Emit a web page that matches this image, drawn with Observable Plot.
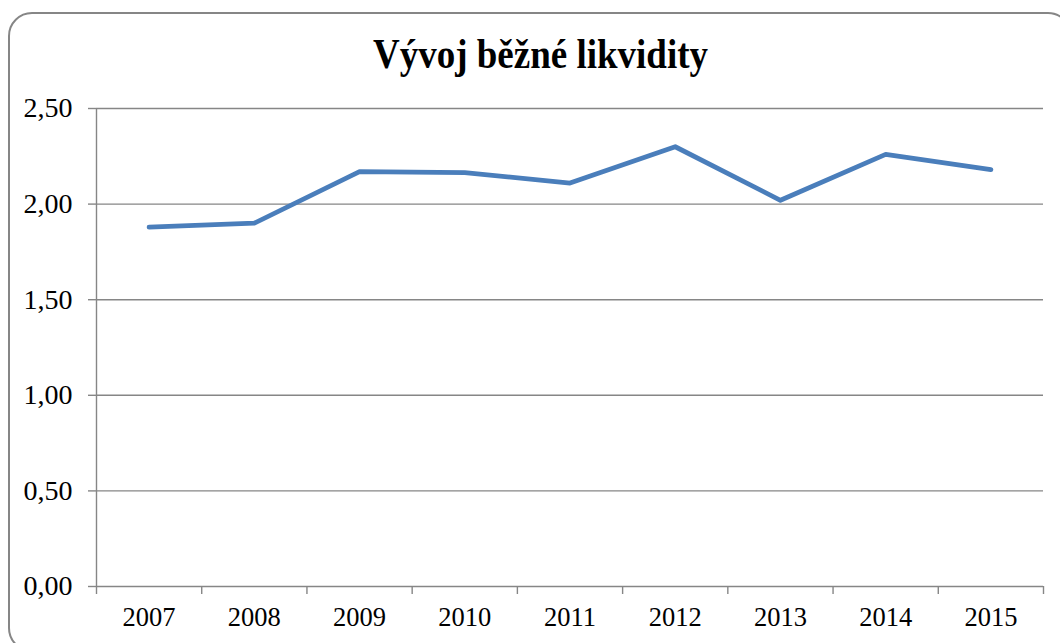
<!DOCTYPE html>
<html>
<head>
<meta charset="utf-8">
<script src="https://cdn.jsdelivr.net/npm/d3@7"></script>
<script src="https://cdn.jsdelivr.net/npm/@observablehq/plot@0.6"></script>
<style>
  html, body { margin: 0; padding: 0; background: #fff; overflow: hidden; }
  #wrap { position: relative; width: 1060px; height: 643px; }
  #frame { position: absolute; left: 8px; top: 12px; width: 1064px; height: 640px;
           border: 2px solid #868686; border-radius: 24px; box-sizing: border-box; }
  #title { position: absolute; left: 0; width: 1081px; top: 37px; text-align: center;
           font-family: "Liberation Serif", "Times New Roman", serif; font-weight: bold;
           font-size: 37px; color: #000; line-height: 1; white-space: nowrap;
           transform: scaleY(1.12); transform-origin: 50% 89%; }
  #chart { position: absolute; left: 0; top: 0; }
</style>
</head>
<body>
<div id="wrap">
  <div id="frame"></div>
  <div id="title">Vývoj běžné likvidity</div>
  <div id="chart"></div>
</div>
<script>
const years = ["2007","2008","2009","2010","2011","2012","2013","2014","2015"];
const values = [1.88, 1.90, 2.17, 2.165, 2.11, 2.30, 2.02, 2.26, 2.18];
const yTicks = [0, 0.5, 1.0, 1.5, 2.0, 2.5];

const data = years.map((y, i) => ({year: y, idx: i + 0.5, value: values[i]}));
const fmt = d => d.toFixed(2).replace(".", ",");
const gray = "#868686";

const plot = Plot.plot({
  width: 1060,
  height: 643,
  marginLeft: 96,
  marginRight: 17,
  marginTop: 108,
  marginBottom: 57,
  style: {fontFamily: "'Liberation Serif', 'Times New Roman', serif", fontSize: "26px", color: "#000", background: "transparent"},
  x: {type: "linear", domain: [0, years.length], axis: null},
  y: {domain: [0, 2.5], axis: null},
  marks: [
    Plot.gridY(yTicks, {stroke: gray, strokeOpacity: 1, strokeWidth: 1.4}),
    Plot.ruleX([0], {stroke: gray, strokeWidth: 1.4}),
    Plot.axisY({ticks: yTicks, tickSize: 8, tickPadding: 16, tickFormat: fmt, stroke: gray, strokeWidth: 1.4, fill: "#000", fontSize: 28, label: null}),
    Plot.axisX({ticks: d3.range(years.length + 1), tickSize: 8, tickFormat: () => "", stroke: gray, strokeWidth: 1.4, label: null}),
    Plot.axisX({ticks: data.map(d => d.idx), tickSize: 0, tickPadding: 21, tickFormat: t => years[Math.floor(t)], fill: "#000", fontSize: 26.5, label: null}),
    Plot.line(data, {x: "idx", y: "value", stroke: "#4a7ebb", strokeWidth: 4.8, strokeLinejoin: "round", strokeLinecap: "round"})
  ]
});
document.getElementById("chart").appendChild(plot);
</script>
</body>
</html>
